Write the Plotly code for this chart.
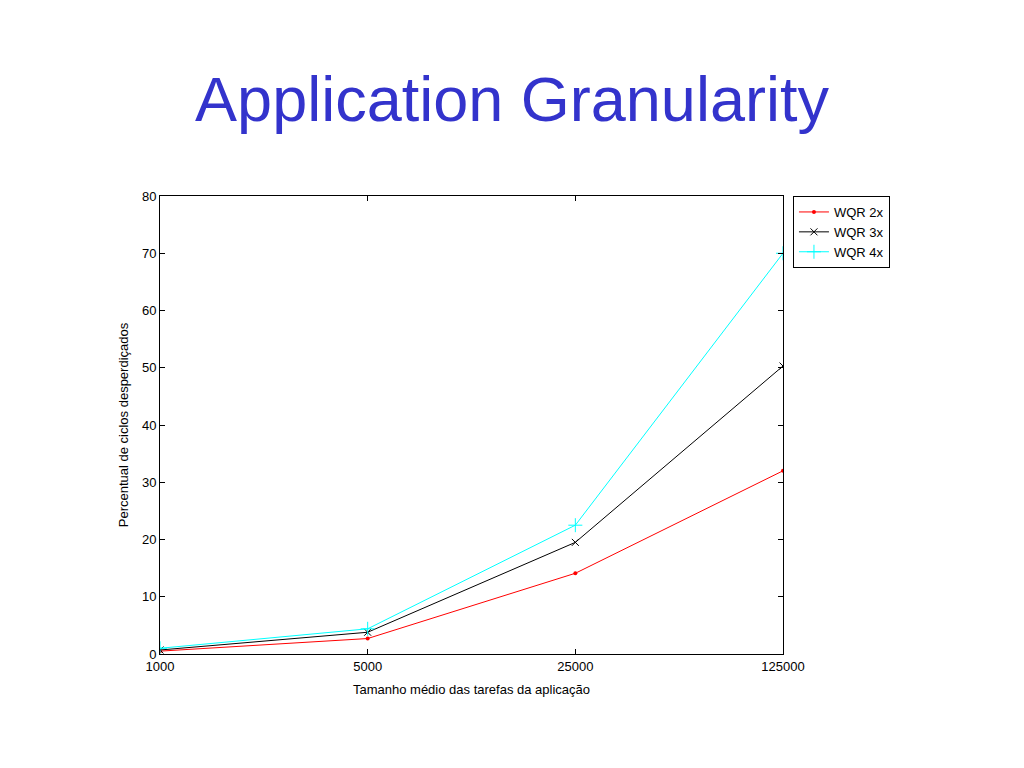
import plotly.graph_objects as go

x_vals = [1000, 5000, 25000, 125000]
x_ticks = ["1000", "5000", "25000", "125000"]
wqr2 = [0.5, 2.7, 14.1, 32.0]
wqr3 = [0.7, 3.8, 19.5, 50.3]
wqr4 = [1.0, 4.4, 22.5, 70.0]

fig = go.Figure()
fig.add_trace(go.Scatter(x=x_vals, y=wqr2, name="WQR 2x", mode="lines+markers",
                         line=dict(color="#ff0000", width=1),
                         marker=dict(symbol="circle", size=4, color="#ff0000")))
fig.add_trace(go.Scatter(x=x_vals, y=wqr3, name="WQR 3x", mode="lines+markers",
                         line=dict(color="#000000", width=1),
                         marker=dict(symbol="x-thin-open", size=7, line=dict(color="#000000", width=1))))
fig.add_trace(go.Scatter(x=x_vals, y=wqr4, name="WQR 4x", mode="lines+markers",
                         line=dict(color="#00ffff", width=1),
                         marker=dict(symbol="cross-thin-open", size=10, line=dict(color="#00ffff", width=1))))

fig.update_layout(
    width=1024, height=768,
    paper_bgcolor="white", plot_bgcolor="white",
    margin=dict(l=152, r=249, t=188, b=122),
    font=dict(family="Liberation Sans, Arial", size=12, color="black"),
    title=dict(text="Application Granularity", x=504 / 1024, xanchor="center",
               y=1 - 91 / 768, yanchor="middle", yref="container",
               font=dict(family="Liberation Sans, Arial", size=63, color="#3333cc")),
    showlegend=True,
    legend=dict(x=1.016, xanchor="left", y=1, yanchor="top",
                bordercolor="black", borderwidth=1, bgcolor="white",
                font=dict(size=13), tracegroupgap=0, itemwidth=30),
)
fig.update_xaxes(type="log", range=[3, 5.09691], tickvals=x_vals, ticktext=x_ticks,
                 ticks="inside", ticklen=5, tickcolor="black", showgrid=False, zeroline=False,
                 showline=True, linecolor="black", linewidth=1, mirror="ticks",
                 tickfont=dict(size=13),
                 title=dict(text="Tamanho médio das tarefas da aplicação", font=dict(size=13), standoff=12))
fig.update_yaxes(range=[0, 80], dtick=10, ticks="inside", ticklen=5, tickcolor="black",
                 showgrid=False, zeroline=False,
                 showline=True, linecolor="black", linewidth=1, mirror="ticks",
                 tickfont=dict(size=13),
                 title=dict(text="Percentual de ciclos desperdiçados", font=dict(size=13), standoff=10))

fig.write_html("out.html")
